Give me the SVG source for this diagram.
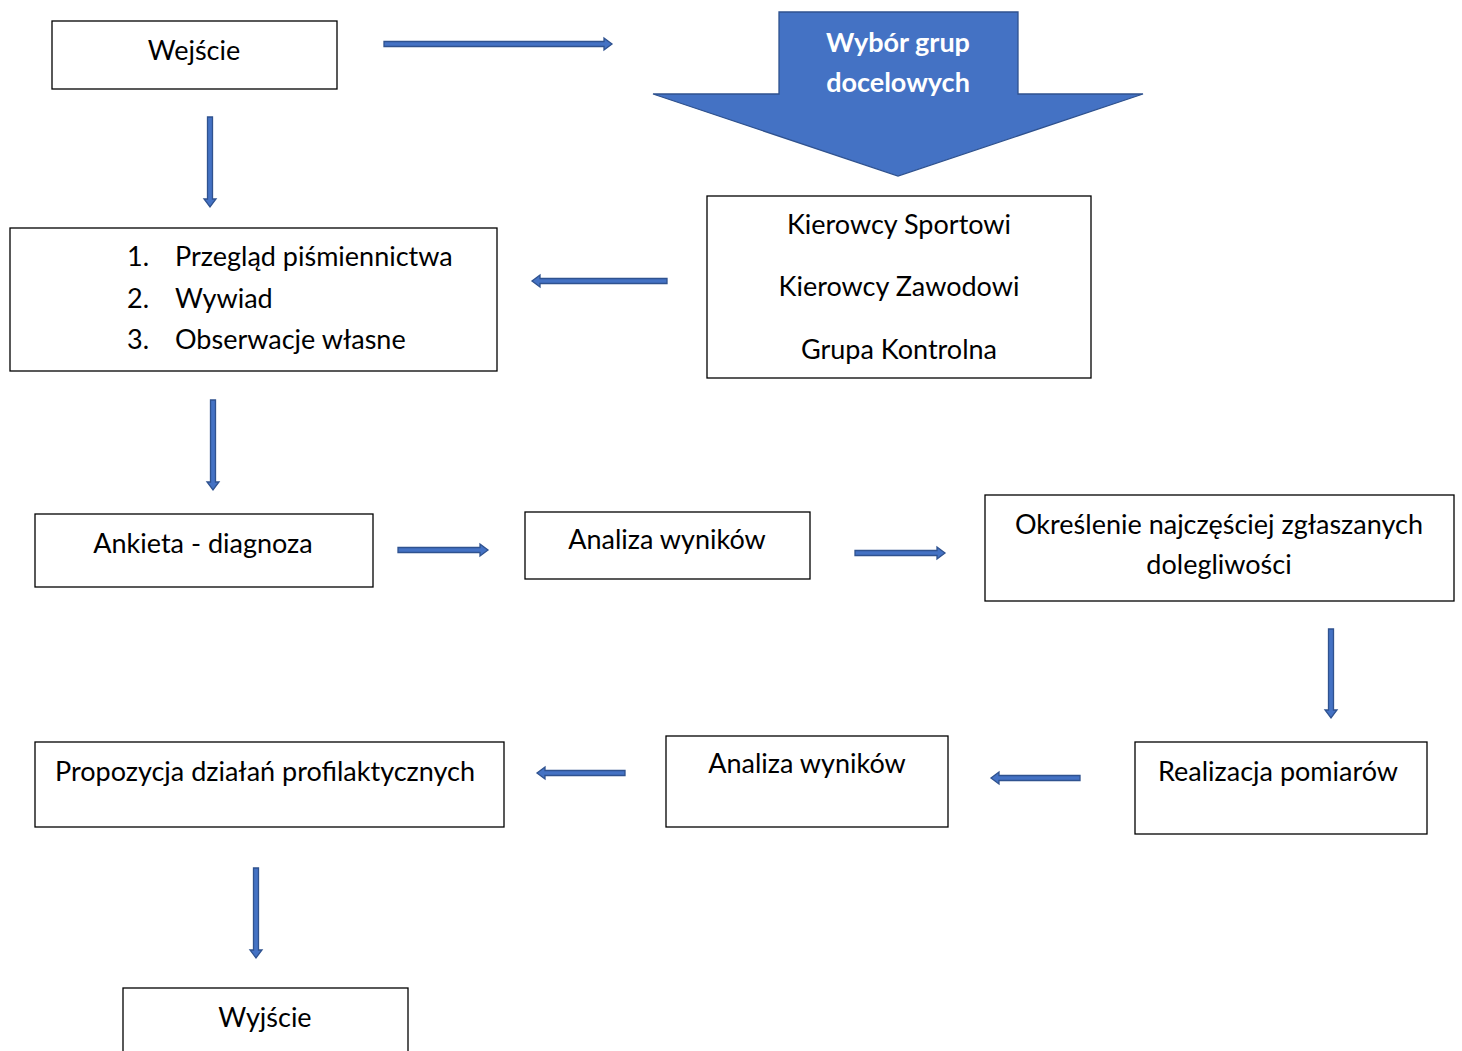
<svg xmlns="http://www.w3.org/2000/svg" width="1462" height="1051" viewBox="0 0 1462 1051">
<style>
.box{fill:#fff;stroke:#000;stroke-width:1.3}
.t{font-family:Lato,"Liberation Sans",sans-serif;font-size:27px;fill:#000}
.c{text-anchor:middle}
.w{font-family:Lato,"Liberation Sans",sans-serif;font-size:27px;font-weight:bold;fill:#fff;text-anchor:middle}
.arr{fill:#4472C4;stroke:#2F528F;stroke-width:1.3}
</style>
<rect width="1462" height="1051" fill="#fff"/>
<g id="connectors">
<path class="arr" d="M384 41.5 H604 V38 L612 44 L604 50 V46.5 H384 Z"/>
<path class="arr" d="M207.5 117 V199 H204 L210 207 L216 199 H212.5 V117 Z"/>
<path class="arr" d="M667 278.5 H540 V275 L532 281 L540 287 V283.5 H667 Z"/>
<path class="arr" d="M210.5 400 V482 H207 L213 490 L219 482 H215.5 V400 Z"/>
<path class="arr" d="M398 547.5 H480 V544 L488 550 L480 556 V552.5 H398 Z"/>
<path class="arr" d="M855 550.5 H937 V547 L945 553 L937 559 V555.5 H855 Z"/>
<path class="arr" d="M1328.5 629 V710 H1325 L1331 718 L1337 710 H1333.5 V629 Z"/>
<path class="arr" d="M1080 775.5 H999 V772 L991 778 L999 784 V780.5 H1080 Z"/>
<path class="arr" d="M625 770.5 H545 V767 L537 773 L545 779 V775.5 H625 Z"/>
<path class="arr" d="M253.5 868 V950 H250 L256 958 L262 950 H258.5 V868 Z"/>
</g>
<g id="wejscie"><rect class="box" x="52" y="21" width="285" height="68"/><text class="t c" x="194" y="60">Wejście</text></g>
<g id="wybor"><path class="arr" d="M779 12 H1018 V94 H1143 L898 176 L653 94 H779 Z"/><text class="w" x="898" y="52">Wybór grup</text><text class="w" x="898" y="92">docelowych</text></g>
<g id="metody"><rect class="box" x="10" y="228" width="487" height="143"/>
<text class="t" x="127" y="266">1.</text><text class="t" x="175" y="266">Przegląd piśmiennictwa</text>
<text class="t" x="127" y="308">2.</text><text class="t" x="175" y="308">Wywiad</text>
<text class="t" x="127" y="349">3.</text><text class="t" x="175" y="349">Obserwacje własne</text></g>
<g id="grupy"><rect class="box" x="707" y="196" width="384" height="182"/>
<text class="t c" x="899" y="234">Kierowcy Sportowi</text>
<text class="t c" x="899" y="296">Kierowcy Zawodowi</text>
<text class="t c" x="899" y="359">Grupa Kontrolna</text></g>
<g id="ankieta"><rect class="box" x="35" y="514" width="338" height="73"/><text class="t c" x="203" y="553">Ankieta - diagnoza</text></g>
<g id="analiza1"><rect class="box" x="525" y="512" width="285" height="67"/><text class="t c" x="667" y="549">Analiza wyników</text></g>
<g id="okreslenie"><rect class="box" x="985" y="495" width="469" height="106"/><text class="t c" x="1219" y="534">Określenie najczęściej zgłaszanych</text><text class="t c" x="1219" y="574">dolegliwości</text></g>
<g id="realizacja"><rect class="box" x="1135" y="742" width="292" height="92"/><text class="t c" x="1278" y="781">Realizacja pomiarów</text></g>
<g id="analiza2"><rect class="box" x="666" y="736" width="282" height="91"/><text class="t c" x="807" y="773">Analiza wyników</text></g>
<g id="propozycja"><rect class="box" x="35" y="742" width="469" height="85"/><text class="t c" x="265" y="781">Propozycja działań profilaktycznych</text></g>
<g id="wyjscie"><rect class="box" x="123" y="988" width="285" height="80"/><text class="t c" x="265" y="1027">Wyjście</text></g>
</svg>
